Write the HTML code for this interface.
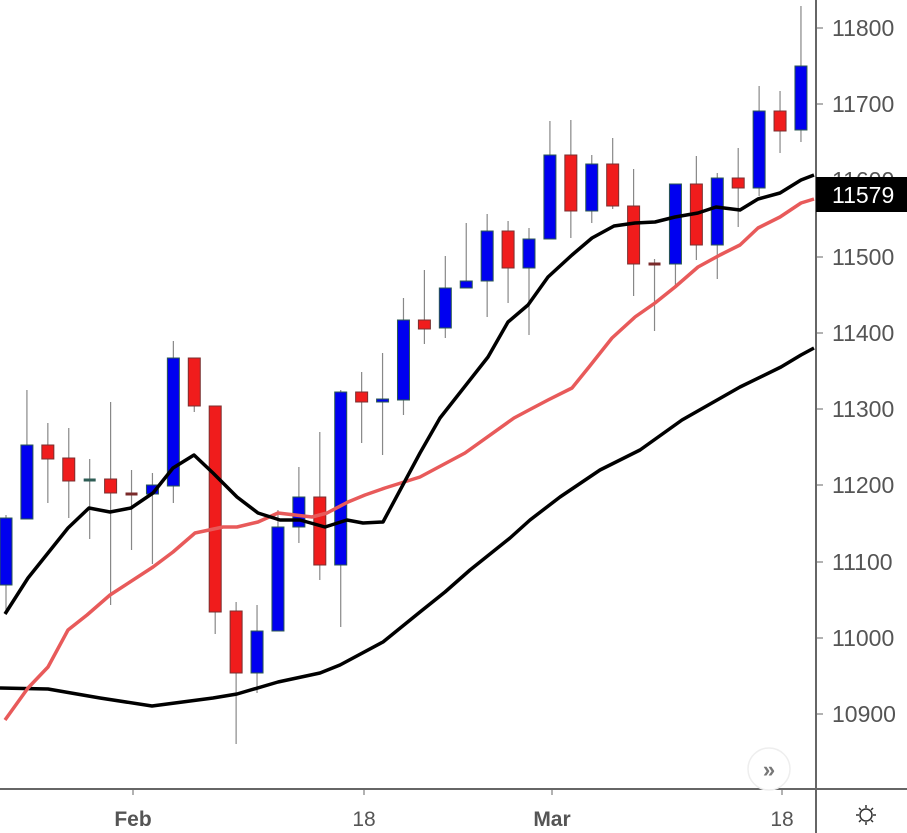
<!DOCTYPE html>
<html><head><meta charset="utf-8"><style>
html,body{margin:0;padding:0;background:#fff;}
svg{display:block;font-family:"Liberation Sans",sans-serif;}
</style></head><body>
<svg width="907" height="833" viewBox="0 0 907 833" xmlns="http://www.w3.org/2000/svg">
<rect width="907" height="833" fill="#fff"/>
<g id="candles" stroke-width="1"></g>
<!-- MA lines -->
<polyline fill="none" stroke="#000" stroke-width="3.5" stroke-linejoin="round" points="0,688 48,689 100,698 152,706 213,698 237,694 278,682 320,673 340,665 383,642 420,612 445,592 470,570 510,538 530,520 560,497 600,470 640,450 682,420 740,387 781,367 801,355 814,348"/>
<polyline fill="none" stroke="#e85a5a" stroke-width="3.5" stroke-linejoin="round" points="5,720 28,688 48,667 68,630 87,615 110,595 153,567 173,552 195,533 223,527 237,527 258,522 278,513 312,517 327,513 348,502 365,495 385,488 420,477 465,453 514,418 529,410 548,400 572,388 589,367 612,338 635,317 655,303 675,287 698,267 720,255 740,245 758,228 780,217 801,203 814,199"/>
<polyline fill="none" stroke="#000" stroke-width="3.5" stroke-linejoin="round" points="5,614 28,578 68,528 89,508 110,512 131,508 153,493 173,468 194,455 213,473 237,497 258,513 280,520 300,520 325,527 347,520 363,523 383,522 420,453 440,418 488,357 508,322 528,305 548,277 572,255 592,238 614,226 635,223 655,222 675,217 698,213 716,207 740,210 758,199 780,193 801,180 814,175"/>
<!-- axes -->
<line x1="816" y1="0" x2="816" y2="833" stroke="#666" stroke-width="2"/>
<line x1="0" y1="789" x2="907" y2="789" stroke="#666" stroke-width="2"/>
<g stroke="#666" stroke-width="1">
<line x1="816" y1="28" x2="823" y2="28"/><line x1="816" y1="104" x2="823" y2="104"/><line x1="816" y1="180" x2="823" y2="180"/><line x1="816" y1="257" x2="823" y2="257"/><line x1="816" y1="333" x2="823" y2="333"/><line x1="816" y1="409" x2="823" y2="409"/><line x1="816" y1="485" x2="823" y2="485"/><line x1="816" y1="562" x2="823" y2="562"/><line x1="816" y1="638" x2="823" y2="638"/><line x1="816" y1="714" x2="823" y2="714"/>
<line x1="133" y1="789" x2="133" y2="795"/><line x1="364" y1="789" x2="364" y2="795"/><line x1="552" y1="789" x2="552" y2="795"/><line x1="782" y1="789" x2="782" y2="795"/>
</g>
<g fill="#555" font-size="23">
<text x="832" y="36">11800</text><text x="832" y="112">11700</text><text x="832" y="188">11600</text><text x="832" y="265">11500</text><text x="832" y="341">11400</text><text x="832" y="417">11300</text><text x="832" y="493">11200</text><text x="832" y="570">11100</text><text x="832" y="646">11000</text><text x="832" y="722">10900</text>
</g>
<rect x="816" y="177" width="91" height="35" fill="#000"/>
<text x="832" y="203" fill="#fff" font-size="23">11579</text>
<g fill="#555" font-size="21" text-anchor="middle">
<text x="133" y="826" font-weight="bold">Feb</text>
<text x="364" y="826">18</text>
<text x="552" y="826" font-weight="bold">Mar</text>
<text x="782" y="826">18</text>
</g>
<circle cx="769" cy="769" r="21" fill="#fff" stroke="#eee" stroke-width="1.5"/>
<text x="769" y="777" fill="#777" font-size="22" font-weight="bold" text-anchor="middle">»</text>
<g stroke="#333" stroke-width="1.5" fill="none">
<circle cx="866" cy="815" r="6"/>
<line x1="866" y1="805" x2="866" y2="808"/><line x1="866" y1="822" x2="866" y2="825"/><line x1="856" y1="815" x2="859" y2="815"/><line x1="873" y1="815" x2="876" y2="815"/>
<line x1="859" y1="808" x2="861" y2="810"/><line x1="871" y1="820" x2="873" y2="822"/><line x1="873" y1="808" x2="871" y2="810"/><line x1="861" y1="820" x2="859" y2="822"/>
</g>
</svg>
<script>
var d=[
['b',518,585,515,610],['b',445,519,390,519],['r',445,459,423,503],['r',458,481,428,518],['g',480,480,459,539],
['r',479,493,402,605],['d',494,494,470,550],['b',485,494,473,564],['b',358,486,341,503],['r',358,406,358,412],
['r',406,612,406,634],['r',611,673,602,744],['b',631,673,605,693],['b',527,631,510,631],['b',497,527,467,543],
['r',497,565,432,580],['b',392,565,390,627],['r',392,402,372,443],['b',399,402,353,455],['b',320,400,298,415],
['r',320,329,270,344],['b',288,328,256,338],['b',281,288,223,288],['b',231,281,214,317],['r',231,268,221,303],
['b',239,268,228,335],['b',155,239,121,239],['r',155,211,120,238],['b',164,211,155,223],['r',164,206,138,209],
['r',206,264,169,296],['d',264,264,259,331],['b',184,264,184,287],['r',184,245,156,260],['b',178,245,173,279],
['r',178,188,148,227],['b',111,188,86,196],['r',111,131,91,153],['b',66,130,6,142]];
var g=document.getElementById('candles'),s='';
d.forEach(function(c,i){var x=6+20.92*i;
s+='<line x1="'+x+'" y1="'+c[3]+'" x2="'+x+'" y2="'+c[4]+'" stroke="#888" stroke-width="1.2"/>';
if(c[0]=='g'||c[0]=='d'){s+='<rect x="'+(x-6)+'" y="'+(c[1]-1.5)+'" width="12" height="3" fill="'+(c[0]=='g'?'#2e5d55':'#7a2a2a')+'"/>';}
else{var h=Math.max(c[2]-c[1],3);s+='<rect x="'+(x-6)+'" y="'+c[1]+'" width="12" height="'+h+'" fill="'+(c[0]=='b'?'#0000f0':'#f01c1c')+'" stroke="'+(c[0]=='b'?'#2c5a50':'#7a3030')+'" stroke-width="1"/>';}
});
g.innerHTML=s;
</script>
</body></html>
